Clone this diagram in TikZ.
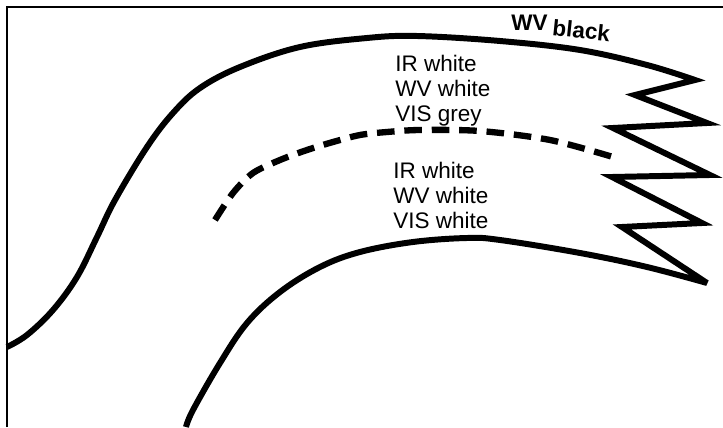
\documentclass[tikz,border=0pt]{standalone}
\usepackage{fontspec}
\setmainfont{Liberation Sans}
\usepackage{tikz}
\usetikzlibrary{positioning}

\tikzset{
  edge/.style={line width=3.4pt, line join=miter, miter limit=6},
  front/.style={line width=3.6pt, dash pattern=on 10pt off 5.6pt},
  bandtext/.style={anchor=north west, inner sep=0pt, align=left, font=\fontsize{12.8}{14.2}\selectfont}
}

\begin{document}
\begin{tikzpicture}
  \useasboundingbox (0,0) rectangle (14.46,8.54);

  % Frame
  \draw[line width=1.1pt] (0.14,0) -- (0.14,8.40) -- (14.46,8.40);

  % Cloud band: upper edge, ragged end, lower edge
  \draw[edge] plot[smooth, tension=0.6] coordinates {
      (0.14,1.60) (0.54,1.84) (1.06,2.34) (1.54,3.00) (1.94,3.80) (2.30,4.54)
      (2.94,5.60) (3.46,6.28) (4.00,6.78) (4.80,7.20) (6.00,7.60) (7.34,7.78)
      (8.34,7.82) (10.00,7.72) (11.60,7.54) (12.94,7.24) (13.90,6.94)}
    -- (12.70,6.64) -- (14.14,6.08) -- (12.26,5.98) -- (14.20,5.04)
    -- (12.24,5.00) -- (14.04,4.08) -- (12.44,4.00) -- (14.14,2.88)
    -- plot[smooth, tension=0.6] coordinates {
      (14.14,2.88) (12.94,3.20) (11.60,3.48) (10.00,3.74) (9.34,3.78) (8.26,3.70)
      (7.20,3.50) (6.40,3.20) (5.60,2.70) (4.94,2.08) (4.40,1.28) (3.86,0.34) (3.72,0.00)};

  % Dashed boundary inside the band
  \draw[front] plot[smooth, tension=0.5] coordinates {
      (4.30,4.14) (4.66,4.68) (5.06,5.08) (5.60,5.34) (6.14,5.54) (6.66,5.70)
      (7.20,5.84) (7.74,5.90) (8.40,5.94) (9.60,5.92) (11.00,5.74) (12.26,5.40)};

  % Labels
  \node[inner sep=0pt, font=\fontsize{12.8}{14}\selectfont\bfseries] (wv) at (10.59,8.09) {WV};
  \node[inner sep=0pt, font=\fontsize{12.8}{14}\selectfont\bfseries, rotate=-6,
        right=0.1cm of wv, yshift=-0.1cm] (blk) {black};

  \node[bandtext] (upper) at (7.90,7.44) {IR white\\WV white\\VIS grey};
  \node[bandtext] (lower) at (7.86,5.30) {IR white\\WV white\\VIS white};
\end{tikzpicture}
\end{document}
